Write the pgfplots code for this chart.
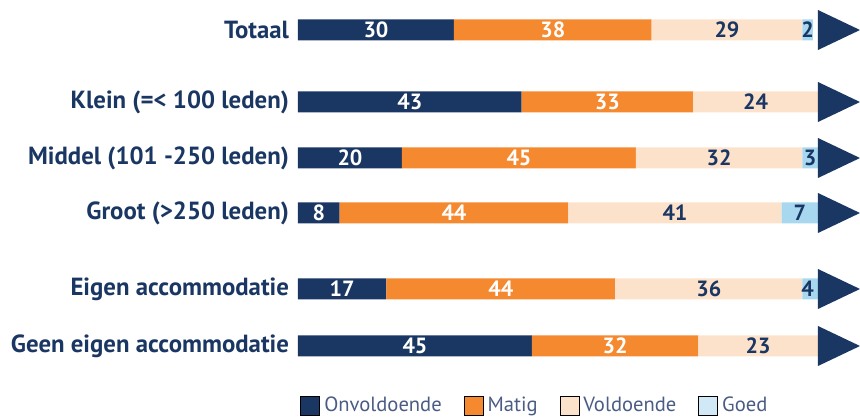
\documentclass[border=0pt]{standalone}
\usepackage{pgfplots}
\pgfplotsset{compat=1.18}
\usepackage{pgfplotstable}
\usepackage{fontspec}
\setmainfont{PT Sans}
\definecolor{navy}{HTML}{1A3662}
\definecolor{orng}{HTML}{F5892F}
\definecolor{peach}{HTML}{FDE2CB}
\definecolor{lblue}{HTML}{A8D8F0}
\definecolor{lblueleg}{HTML}{D1E9F6}
\definecolor{legtext}{HTML}{4B5C84}

\pgfplotstableread{
y    on  ma  vo  go
30   30  38  29  2
102  43  33  24  0
158  20  45  32  3
213  8   44  41  7
289  17  44  36  4
346  45  32  23  0
}\datatable

\begin{document}
\begin{tikzpicture}
\begin{axis}[
  scale only axis,
  width=281pt, height=208.5pt,
  xmin=0, xmax=108.08,
  ymin=0, ymax=417,
  y dir=reverse,
  clip=false,
  axis line style={draw=none},
  tick style={draw=none},
  xtick=\empty,
  ytick={30,102,158,213,289,346},
  yticklabels={Totaal, Klein (=< 100 leden), Middel (101 -250 leden), Groot (>250 leden), Eigen accommodatie, Geen eigen accommodatie},
  yticklabel style={font=\fontsize{12.4}{14}\selectfont\bfseries, text=navy, xshift=-1pt},
  bar width=21,
  legend image code/.code={\fill[#1] (0pt,-4.75pt) rectangle (9.5pt,4.75pt);},
  legend columns=4,
  legend style={at={(axis cs:0.4,406)}, anchor=west, draw=none, fill=none,
    font=\fontsize{10.3}{12}\selectfont, text=legtext, inner sep=0pt,
    /tikz/every even column/.append style={column sep=9pt}},
  nlabel/.style={forget plot, only marks, mark size=0pt, mark options={draw=none,fill=none},
    nodes near coords, point meta=explicit symbolic,
    every node near coord/.style={anchor=center, font=\fontsize{11}{12}\selectfont\bfseries, text=#1}},
]
\addplot[xbar stacked, fill=navy, draw=none, forget plot] table[x=on, y=y] {\datatable};
\addplot[xbar stacked, fill=orng, draw=none, forget plot] table[x=ma, y=y] {\datatable};
\addplot[xbar stacked, fill=peach, draw=none, forget plot] table[x=vo, y=y] {\datatable};
\addplot[xbar stacked, fill=lblue, draw=none, forget plot] table[x=go, y=y] {\datatable};

% arrows
\addplot[fill=navy, draw=none, forget plot] coordinates {(100,10) (108.08,30) (100,50)} -- cycle;
\addplot[fill=navy, draw=none, forget plot] coordinates {(100,82) (108.08,102) (100,122)} -- cycle;
\addplot[fill=navy, draw=none, forget plot] coordinates {(100,138) (108.08,158) (100,178)} -- cycle;
\addplot[fill=navy, draw=none, forget plot] coordinates {(100,193) (108.08,213) (100,233)} -- cycle;
\addplot[fill=navy, draw=none, forget plot] coordinates {(100,269) (108.08,289) (100,309)} -- cycle;
\addplot[fill=navy, draw=none, forget plot] coordinates {(100,326) (108.08,346) (100,366)} -- cycle;

% value labels
\addplot[nlabel=white] coordinates {
 (15,30)[30] (49,30)[38]
 (21.5,102)[43] (59.5,102)[33]
 (10,158)[20] (42.5,158)[45]
 (4,213)[8] (30,213)[44]
 (8.5,289)[17] (39,289)[44]
 (22.5,346)[45] (61,346)[32]
};
\addplot[nlabel=navy] coordinates {
 (82.5,30)[29] (98,30)[2]
 (88,102)[24]
 (81,158)[32] (98.5,158)[3]
 (72.5,213)[41] (96.5,213)[7]
 (79,289)[36] (98,289)[4]
 (88.5,346)[23]
};

\addlegendimage{fill=navy}
\addlegendentry{Onvoldoende}
\addlegendimage{fill=orng}
\addlegendentry{Matig}
\addlegendimage{fill=peach}
\addlegendentry{Voldoende}
\addlegendimage{fill=lblueleg}
\addlegendentry{Goed}

\coordinate (bbA) at (axis cs:-57.31,0);
\coordinate (bbB) at (axis cs:108.08,417);
\end{axis}
\pgfresetboundingbox
\path[use as bounding box] (bbA) rectangle (bbB);
\end{tikzpicture}
\end{document}
